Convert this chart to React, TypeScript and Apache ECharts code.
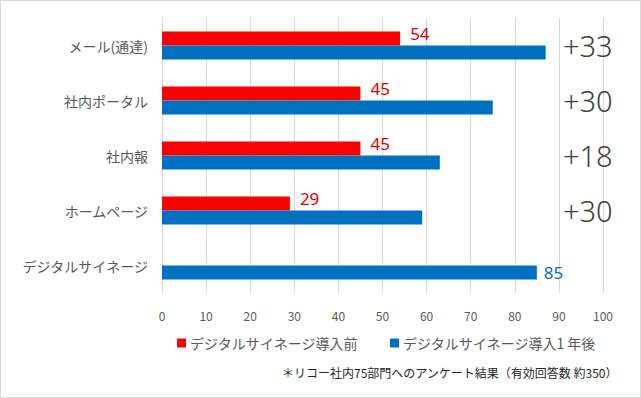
import React, { useEffect, useRef } from "react";
import * as echarts from "echarts";

const categories = ["メール(通達)", "社内ポータル", "社内報", "ホームページ", "デジタルサイネージ"];
const beforeValues: (number | null)[] = [54, 45, 45, 29, null];
const afterValues: number[] = [87, 75, 63, 59, 85];
const seriesNames = ["デジタルサイネージ導入前", "デジタルサイネージ導入1 年後"];
const footnote = "＊リコー社内75部門へのアンケート結果（有効回答数 約350）";

const diffLabels = categories.map((_, i) =>
  beforeValues[i] == null ? "" : "+" + (afterValues[i] - (beforeValues[i] as number))
);

const FONT = "'Noto Sans CJK JP', 'Noto Sans', sans-serif";

export default function App() {
  const ref = useRef<HTMLDivElement>(null);
  useEffect(() => {
    if (!ref.current) return;
    const chart = echarts.init(ref.current, undefined, { renderer: "svg" });
    chart.setOption({
      animation: false,
      backgroundColor: "#ffffff",
      textStyle: { fontFamily: FONT },
      grid: { left: 161, right: 37, top: 17, bottom: 104, containLabel: false },
      legend: {
        top: 330,
        left: 171,
        itemWidth: 9,
        itemHeight: 9,
        itemGap: 32,
        icon: "rect",
        textStyle: { fontFamily: FONT, fontSize: 14, color: "#595959", padding: [0, 0, 0, -1] },
        data: seriesNames,
      },
      xAxis: {
        type: "value",
        min: 0,
        max: 100,
        interval: 10,
        axisLine: { show: false },
        axisTick: { show: false },
        axisLabel: { color: "#595959", fontSize: 12, margin: 16, fontFamily: FONT },
        splitLine: { lineStyle: { color: "#d9d9d9", width: 1 } },
      },
      yAxis: [
        {
          type: "category",
          data: categories,
          inverse: true,
          axisLine: { show: false },
          axisTick: { show: false },
          axisLabel: { color: "#595959", fontSize: 14, margin: 14, fontFamily: FONT },
        },
        {
          type: "category",
          data: diffLabels,
          inverse: true,
          position: "right",
          offset: -40,
          axisLine: { show: false },
          axisTick: { show: false },
          splitLine: { show: false },
          axisLabel: {
            color: "#404040",
            fontSize: 29,
            fontWeight: 300,
            margin: 0,
            align: "left",
            padding: [10, 0, 0, 0],
            fontFamily: "'Noto Sans', sans-serif",
          },
        },
      ],
      series: [
        {
          name: seriesNames[0],
          type: "bar",
          data: beforeValues,
          barWidth: 14,
          barGap: "0%",
          itemStyle: { color: "#ff0000" },
          label: {
            show: true,
            position: "right",
            distance: 10,
            offset: [0, -5],
            color: "#e00000",
            fontSize: 17,
            fontFamily: "'Noto Sans', sans-serif",
          },
        },
        {
          name: seriesNames[1],
          type: "bar",
          data: afterValues.map((v, i) => ({
            value: v,
            label: { show: i === afterValues.length - 1 },
          })),
          barWidth: 14,
          itemStyle: { color: "#0070c0" },
          label: {
            position: "right",
            distance: 7,
            color: "#0070c0",
            fontSize: 17,
            fontFamily: "'Noto Sans', sans-serif",
          },
        },
      ],
      graphic: [
        {
          type: "text",
          right: 22,
          top: 365,
          style: { text: footnote, fontSize: 12, fill: "#262626", fontFamily: FONT },
        },
      ],
    });
    return () => chart.dispose();
  }, []);
  return (
    <div
      style={{
        position: "absolute",
        left: 0,
        top: 0,
        width: 641,
        height: 398,
        boxSizing: "border-box",
        border: "1px solid #d9d9d9",
        background: "#fff",
      }}
    >
      <div ref={ref} style={{ width: 639, height: 396 }} />
    </div>
  );
}
